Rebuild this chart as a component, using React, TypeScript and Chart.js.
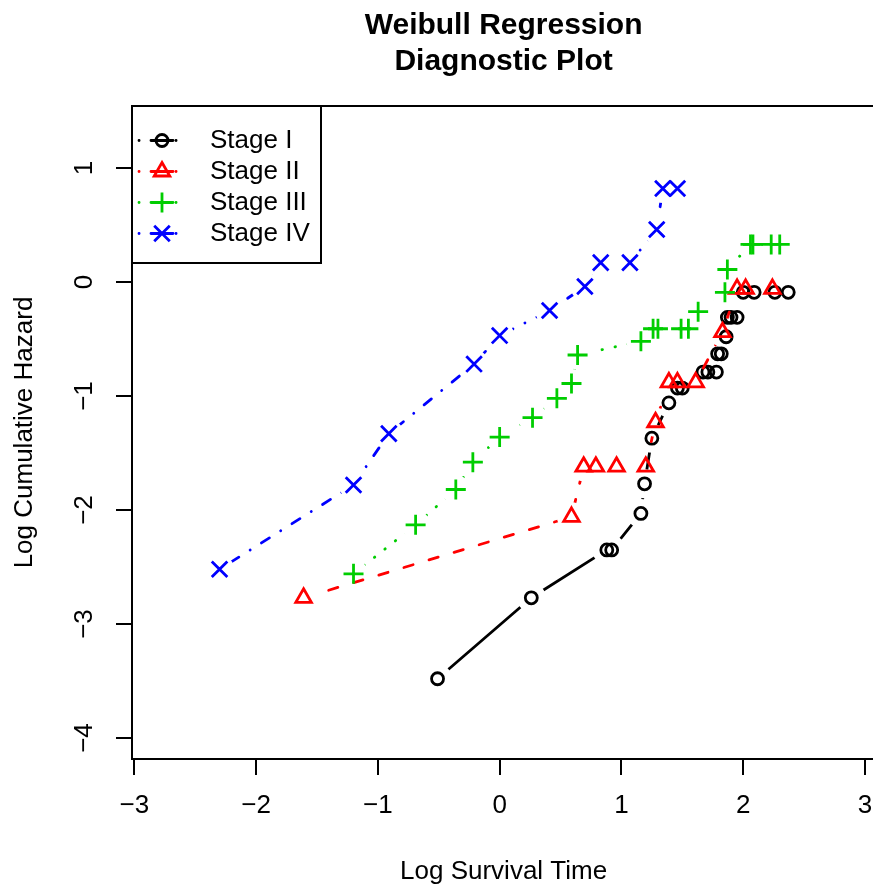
import { useEffect, useRef } from 'react';
import { Chart, registerables } from 'chart.js';

Chart.register(...registerables);

const FONT = '"Liberation Sans", Arial, Helvetica, sans-serif';

// ---- text ----
const titleLines = ['Weibull Regression', 'Diagnostic Plot'];
const xAxisTitle = 'Log Survival Time';
const yAxisTitle = 'Log Cumulative Hazard';
const seriesNames = ['Stage I', 'Stage II', 'Stage III', 'Stage IV'];

// ---- tick values ----
const xTicks = [-3, -2, -1, 0, 1, 2, 3];
const yTicks = [-4, -3, -2, -1, 0, 1];

// ---- data (log time, log cumulative hazard) ----
const stage1X = [-0.51, 0.26, 0.88, 0.92, 1.16, 1.19, 1.25, 1.39, 1.46, 1.50, 1.67, 1.71, 1.78, 1.79, 1.82, 1.86, 1.87, 1.90, 1.95, 2.00, 2.09, 2.26, 2.37];
const stage1Y = [-3.48, -2.77, -2.35, -2.35, -2.03, -1.77, -1.37, -1.06, -0.93, -0.93, -0.79, -0.79, -0.79, -0.63, -0.63, -0.48, -0.31, -0.31, -0.31, -0.09, -0.09, -0.09, -0.09];

const stage2X = [-1.61, 0.59, 0.69, 0.79, 0.96, 1.20, 1.28, 1.39, 1.46, 1.61, 1.83, 1.95, 2.02, 2.24];
const stage2Y = [-2.77, -2.06, -1.62, -1.62, -1.62, -1.62, -1.23, -0.88, -0.88, -0.88, -0.44, -0.06, -0.06, -0.06];

const stage3X = [-1.20, -0.69, -0.36, -0.22, 0.00, 0.27, 0.47, 0.59, 0.64, 1.16, 1.26, 1.30, 1.49, 1.55, 1.63, 1.85, 1.87, 2.06, 2.08, 2.23, 2.30];
const stage3Y = [-2.56, -2.13, -1.82, -1.58, -1.36, -1.19, -1.02, -0.89, -0.64, -0.52, -0.41, -0.41, -0.41, -0.41, -0.26, -0.09, 0.11, 0.33, 0.33, 0.33, 0.33];

const stage4X = [-2.30, -1.20, -0.91, -0.21, 0.00, 0.41, 0.70, 0.83, 1.07, 1.29, 1.34, 1.46];
const stage4Y = [-2.52, -1.78, -1.33, -0.72, -0.47, -0.25, -0.04, 0.17, 0.17, 0.46, 0.82, 0.82];

const seriesX = [stage1X, stage2X, stage3X, stage4X];
const seriesY = [stage1Y, stage2Y, stage3Y, stage4Y];

// ---- styles ----
const colors = ['#000000', '#FF0000', '#00CD00', '#0000FF'];
const dashes = [[], [9.6, 16.6], [0.5, 12.8], [0.1, 13.3, 9.4, 13.3]];
const pointStyles = ['circle', 'triangle', 'cross', 'crossRot'];
const pointRadii = [6, 9, 10, 11];
const LW = 2.8;
const GAP = 14.5;

const X_MIN = -3.019;
const X_MAX = 3.084;
const Y_MIN = -4.184;
const Y_MAX = 1.544;

const fmt = (v: number | string) => String(v).replace('-', '\u2212');

// R type="b": lines stop short of the points
const gapPlugin = {
  id: 'gapPlugin',
  beforeDatasetDraw(chart: any, args: any) {
    const ds = chart.data.datasets[args.index];
    if (!ds.gapLine) return;
    const ctx = chart.ctx;
    ctx.save();
    for (const el of args.meta.data) {
      ctx.beginPath();
      ctx.rect(0, 0, chart.width, chart.height);
      ctx.moveTo(el.x + GAP, el.y);
      ctx.arc(el.x, el.y, GAP, 0, Math.PI * 2);
      ctx.clip('evenodd');
    }
  },
  afterDatasetDraw(chart: any, args: any) {
    const ds = chart.data.datasets[args.index];
    if (!ds.gapLine) return;
    chart.ctx.restore();
  },
};

function drawMarker(ctx: CanvasRenderingContext2D, kind: number, x: number, y: number) {
  ctx.beginPath();
  if (kind === 0) {
    ctx.arc(x, y, pointRadii[0], 0, Math.PI * 2);
  } else if (kind === 1) {
    const r = pointRadii[1];
    ctx.moveTo(x, y - r);
    ctx.lineTo(x + r * Math.sin((2 * Math.PI) / 3), y + r / 2);
    ctx.lineTo(x - r * Math.sin((2 * Math.PI) / 3), y + r / 2);
    ctx.closePath();
  } else if (kind === 2) {
    const r = pointRadii[2];
    ctx.moveTo(x - r, y);
    ctx.lineTo(x + r, y);
    ctx.moveTo(x, y - r);
    ctx.lineTo(x, y + r);
  } else {
    const r = pointRadii[3] * Math.SQRT1_2;
    ctx.moveTo(x - r, y - r);
    ctx.lineTo(x + r, y + r);
    ctx.moveTo(x - r, y + r);
    ctx.lineTo(x + r, y - r);
  }
  ctx.stroke();
}

const boxLegendPlugin = {
  id: 'boxLegend',
  afterDatasetsDraw(chart: any) {
    const ctx: CanvasRenderingContext2D = chart.ctx;
    const a = chart.chartArea;
    ctx.save();
    // plot box
    ctx.strokeStyle = '#000';
    ctx.lineWidth = 2;
    ctx.strokeRect(a.left, a.top, a.right - a.left, a.bottom - a.top);

    // legend box
    const lx = a.left;
    const ly = a.top;
    const lw = 189;
    const lh = 157;
    ctx.fillStyle = '#fff';
    ctx.fillRect(lx, ly, lw, lh);
    ctx.strokeRect(lx, ly, lw, lh);

    ctx.font = `26px ${FONT}`;
    ctx.textBaseline = 'middle';
    ctx.textAlign = 'left';
    seriesNames.forEach((name, i) => {
      const y = ly + 34.5 + i * 31;
      ctx.strokeStyle = colors[i];
      ctx.lineWidth = LW;
      ctx.lineCap = 'round';
      ctx.beginPath();
      ctx.moveTo(lx + 7, y);
      ctx.lineTo(lx + 7.1, y);
      ctx.moveTo(lx + 44, y);
      ctx.lineTo(lx + 44.1, y);
      ctx.moveTo(lx + 19, y);
      ctx.lineTo(lx + 41, y);
      ctx.stroke();
      ctx.lineCap = 'butt';
      drawMarker(ctx, i, lx + 30, y);
      ctx.fillStyle = '#000';
      ctx.fillText(name, lx + 78, y);
    });
    ctx.restore();
  },
};

export default function App() {
  const ref = useRef<HTMLCanvasElement>(null);

  useEffect(() => {
    const datasets: any[] = [];
    seriesNames.forEach((name, i) => {
      const pts = seriesX[i].map((x, k) => ({ x, y: seriesY[i][k] }));
      datasets.push({
        label: name + ' line',
        data: pts,
        gapLine: true,
        showLine: true,
        borderColor: colors[i],
        borderWidth: LW,
        borderDash: dashes[i],
        borderCapStyle: 'round',
        borderJoinStyle: 'round',
        pointRadius: 0,
        pointHoverRadius: 0,
        fill: false,
        tension: 0,
        order: 8 - 2 * i,
      });
      datasets.push({
        label: name,
        data: pts,
        showLine: false,
        pointStyle: pointStyles[i],
        pointRadius: pointRadii[i],
        pointHoverRadius: pointRadii[i],
        pointBorderWidth: LW,
        pointBorderColor: colors[i],
        pointBackgroundColor: 'rgba(0,0,0,0)',
        order: 7 - 2 * i,
      });
    });

    const tickFont = { family: FONT, size: 26 };
    const chart = new Chart(ref.current as HTMLCanvasElement, {
      type: 'scatter',
      data: { datasets },
      options: {
        responsive: false,
        animation: false,
        devicePixelRatio: 1,
        events: [],
        layout: { padding: { left: 0, right: 0, top: 0, bottom: 0 } },
        plugins: {
          legend: { display: false },
          tooltip: { enabled: false },
          title: {
            display: true,
            text: titleLines,
            fullSize: false,
            color: '#000',
            font: { family: FONT, size: 30, weight: 'bold', lineHeight: 1.2 },
            padding: { top: 8, bottom: 26 },
          },
        },
        scales: {
          x: {
            type: 'linear',
            min: X_MIN,
            max: X_MAX,
            afterBuildTicks: (s: any) => {
              s.ticks = xTicks.map((v) => ({ value: v }));
            },
            afterFit: (s: any) => {
              s.height = 126;
              s.paddingLeft = 0;
              s.paddingRight = 0;
            },
            grid: { display: true, drawOnChartArea: false, drawTicks: true, tickLength: 16, color: '#000', lineWidth: 2 },
            border: { display: false },
            ticks: {
              font: { family: FONT, size: 26, lineHeight: 2.4 },
              color: '#000',
              padding: 0,
              maxRotation: 0,
              autoSkip: false,
              callback: fmt,
            },
            title: { display: true, text: xAxisTitle, color: '#000', font: tickFont, padding: { top: 0, bottom: -2 } },
          },
          y: {
            type: 'linear',
            min: Y_MIN,
            max: Y_MAX,
            afterBuildTicks: (s: any) => {
              s.ticks = yTicks.map((v) => ({ value: v }));
            },
            afterFit: (s: any) => {
              s.width = 132;
              s.paddingTop = 0;
              s.paddingBottom = 0;
            },
            grid: { display: true, drawOnChartArea: false, drawTicks: true, tickLength: 16, color: '#000', lineWidth: 2 },
            border: { display: false },
            ticks: {
              font: tickFont,
              color: '#000',
              padding: 16,
              minRotation: 90,
              maxRotation: 90,
              crossAlign: 'center',
              autoSkip: false,
              callback: fmt,
            },
            title: { display: true, text: yAxisTitle, color: '#000', font: tickFont, padding: { top: 9, bottom: 0 } },
          },
        },
      } as any,
      plugins: [gapPlugin, boxLegendPlugin],
    });
    return () => chart.destroy();
  }, []);

  return (
    <div style={{ position: 'fixed', left: 0, top: 0, width: 873, height: 885, overflow: 'hidden', background: '#fff' }}>
      <canvas ref={ref} width={889} height={885} style={{ display: 'block' }} />
    </div>
  );
}
